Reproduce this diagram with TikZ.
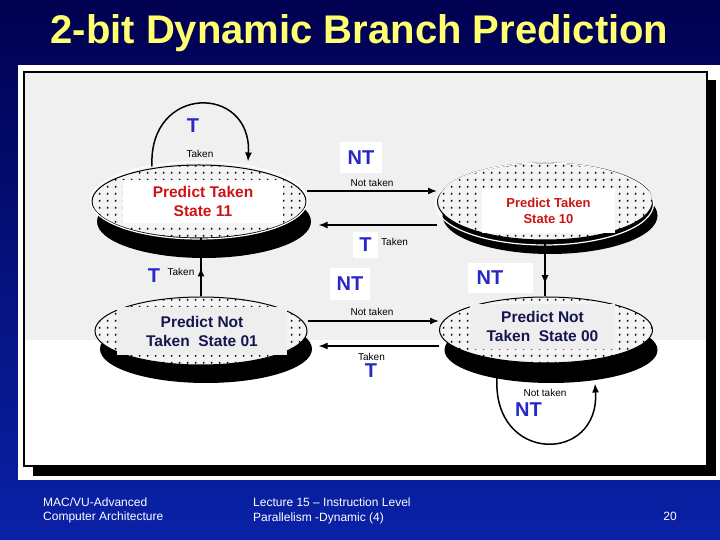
\documentclass[tikz,border=0pt]{standalone}
\usepackage{fontspec}
\setmainfont{Liberation Sans}
\usetikzlibrary{shapes.geometric,shadows,patterns.meta,arrows.meta,decorations.markings}
\definecolor{bgtop}{HTML}{000050}
\definecolor{bgbot}{HTML}{0A22A8}
\definecolor{titley}{HTML}{FFFF70}
\definecolor{panelgray}{HTML}{F0F0F0}
\definecolor{ellfill}{HTML}{F4F4F4}
\definecolor{boxgray}{HTML}{EEEEEE}
\definecolor{lblblue}{HTML}{2828C8}
\definecolor{stred}{HTML}{CC1414}
\definecolor{stnavy}{HTML}{151550}
\tikzdeclarepattern{
  name=sdots,
  type=uncolored,
  bounding box={(0pt,0pt) and (8pt,6.7pt)},
  tile size={(8pt,6.7pt)},
  code={\fill (3.1pt,2.45pt) rectangle (4.9pt,4.25pt);}
}
\begin{document}
\begin{tikzpicture}[x=1pt,y=1pt,
  shadowed/.style={drop shadow={shadow xshift=5pt, shadow yshift=#1, fill=black, opacity=1}},
  statebox/.style={shape=ellipse, inner sep=0pt, draw=black, line width=1pt,
    preaction={fill=ellfill}, pattern=sdots, pattern color=black},
  sttext/.style={inner sep=0pt, align=center},
  lbl/.style={font=\bfseries\fontsize{20}{24}\selectfont, text=lblblue, inner sep=0pt},
  small/.style={font=\fontsize{10}{12}\selectfont, text=black, inner sep=0pt},
  foot/.style={font=\fontsize{12}{14}\selectfont, text=white, inner sep=0pt},
  conn/.style={draw=black, line width=1.5pt, -{Latex[length=9pt,width=7pt]}},
  plainline/.style={draw=black, line width=1.5pt},
  midarrow/.style={postaction={decorate}, decoration={markings,
    mark=at position #1 with {\arrow{Latex[length=9pt,width=7pt]}}}}
]
\useasboundingbox (0,0) rectangle (720,540);
% background
\shade[top color=bgtop, bottom color=bgbot] (0,0) rectangle (720,540);
% title
\node[font=\bfseries\fontsize{40}{48}\selectfont, text=titley, anchor=base, inner sep=0pt]
  (title) at (359.5,496) {2-bit Dynamic Branch Prediction};
% panel
\fill[white] (18,60) rectangle (720,475);
\fill[black] (33,64) rectangle (716,74);
\fill[black] (707,64) rectangle (716,460);
\fill[panelgray] (24,200) rectangle (707,468);
\fill[white] (24,74) rectangle (707,200);
\draw[black, line width=1.5pt] (24,74) rectangle (707,468);
% states
\node[shadowed=-20pt, statebox, minimum width=214pt, minimum height=73pt] (s11) at (199,338.5) {};
\node[shadowed=-14pt, statebox, minimum width=215pt, minimum height=77pt] (s10) at (545,338.5) {};
\node[shadowed=-18pt, statebox, minimum width=212pt, minimum height=68pt] (s01) at (201,209) {};
\node[shadowed=-20pt, statebox, minimum width=213pt, minimum height=66pt] (s00) at (546,210) {};
\draw[white, line width=1.2pt] (199,339.5) ellipse [x radius=108.5pt, y radius=38.5pt];
\draw[white, line width=1.2pt] (544.5,336) ellipse [x radius=109pt, y radius=41pt];
% state texts
\node[sttext, fill=white, text=stred, minimum width=160pt, minimum height=43pt,
  font=\bfseries\fontsize{15.5}{19}\selectfont] (t11) at (203,338.5) {Predict Taken\\State 11};
\node[sttext, fill=white, text=stred, minimum width=133pt, minimum height=45pt,
  font=\bfseries\fontsize{13}{16}\selectfont] (t10) at (548.5,329) {Predict Taken\\State 10};
\node[sttext, fill=boxgray, text=stnavy, minimum width=170pt, minimum height=48pt,
  font=\bfseries\fontsize{15.5}{19}\selectfont] (t01) at (202,209) {Predict Not\\Taken~~State 01};
\node[sttext, fill=boxgray, text=stnavy, minimum width=145pt, minimum height=45pt,
  font=\bfseries\fontsize{15.5}{19}\selectfont] (t00) at (542.5,213.5) {Predict Not\\Taken~~State 00};
% connectors
\draw[conn] ([yshift=10.5pt]s11.east) -- ([yshift=10.5pt]s10.west);
\draw[conn] ([yshift=-23.5pt]s10.west) -- ([shift={(12pt,-23.5pt)}]s11.east);
\draw[plainline, midarrow=0.5] (s01.north) -- (s01.north |- s11.south);
\draw[plainline, midarrow=0.78] (s10.south) -- (s10.south |- s00.north);
\draw[conn] ([yshift=10pt]s01.east) -- ([yshift=9pt]s00.west);
\draw[conn] ([yshift=-16pt]s00.west) -- ([shift={(11pt,-15pt)}]s01.east);
\draw[conn] ([shift={(-47pt,-2pt)}]s11.north) .. controls (148,456) and (252,456) .. ([shift={(49pt,3pt)}]s11.north);
\draw[conn] ([shift={(-49pt,-14pt)}]s00.south) .. controls (492,76) and (600,76) .. ([shift={(49pt,-20pt)}]s00.south);
% labels
\node[small] (sk1) at (200,386.5) {Taken};
\node[lbl] (lT1) at (193,414.5) {T};
\node[small] (sk2) at (372,357) {Not taken};
\node[lbl, fill=white, minimum width=42pt, minimum height=31pt] (lNT1) at (361,382.5) {NT};
\node[lbl, fill=white, minimum width=25pt, minimum height=26pt] (lT2) at (365.5,295) {T};
\node[small, anchor=west] (sk3) at (381,298) {Taken};
\node[lbl, fill=white, minimum width=40pt, minimum height=32pt] (lNT2) at (350,256) {NT};
\node[small] (sk4) at (372,228) {Not taken};
\fill[white] (468,247) rectangle (533,277);
\node[lbl] (lNT3) at (490,262) {NT};
\node[lbl] (lT3) at (154,264.5) {T};
\node[small] (sk5) at (181,268) {Taken};
\node[small] (sk6) at (371.5,183.5) {Taken};
\node[lbl] (lT4) at (371,169) {T};
\node[small] (sk7) at (545,147) {Not taken};
\node[lbl] (lNT4) at (528.5,130) {NT};
% footer
\node[foot, anchor=base west] (f1) at (43,33.5) {MAC/VU-Advanced};
\node[foot, anchor=base west] (f2) at (43,19.5) {Computer Architecture};
\node[foot, anchor=base west] (f3) at (253,33.5) {Lecture 15 – Instruction Level};
\node[foot, anchor=base west] (f4) at (253,18.5) {Parallelism -Dynamic (4)};
\node[foot, anchor=base east] (f5) at (677,19.5) {20};
\end{tikzpicture}
\end{document}
